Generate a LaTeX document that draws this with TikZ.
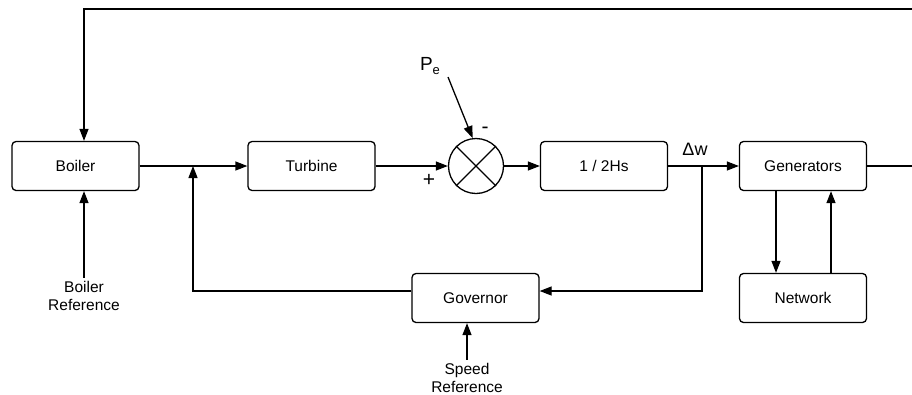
\documentclass[tikz,border=0pt]{standalone}
\usepackage{fontspec}
\setmainfont{Liberation Sans}
\usetikzlibrary{arrows.meta}
\begin{document}
\begin{tikzpicture}[x=1pt,y=-1pt,
  blk/.style={draw, line width=1.3pt, rounded corners=4pt, minimum width=127pt, minimum height=49pt, font=\fontsize{15.5}{17}\selectfont, inner sep=0pt},
  lbl/.style={font=\fontsize{15.5}{18}\selectfont, align=center},
  wire/.style={line width=1.3pt},
  arr/.style={wire, -{Triangle[length=12pt,width=9pt]}}]
\useasboundingbox (0,0) rectangle (912,394);
\clip (0,0) rectangle (912,394);
\node[blk] (boiler) at (75.5,166) {Boiler};
\node[blk] (turbine) at (311.5,166) {Turbine};
\node[draw, circle, line width=1.3pt, minimum size=55pt, inner sep=0pt] (sum) at (476,166) {};
\draw[wire] (sum.45) -- (sum.225) (sum.135) -- (sum.315);
\node[blk] (hs) at (604,166) {1 / 2Hs};
\node[blk] (gen) at (803,166) {Generators};
\node[blk] (net) at (803,298) {Network};
\node[blk] (gov) at (475.5,298) {Governor};
\node[lbl] (bref) at (84,296) {Boiler\\Reference};
\node[lbl] (sref) at (467,378) {Speed\\Reference};
\node[font=\fontsize{19}{20}\selectfont] (pe) at (430,66) {P\raisebox{-4pt}{\fontsize{13}{13}\selectfont e}};
\node[font=\fontsize{21}{22}\selectfont] (plus) at (429,180) {+};
\node[font=\fontsize{21}{22}\selectfont] (minus) at (485,130) {-};
\node[font=\fontsize{18}{20}\selectfont] (dw) at (695,149) {Δw};
\coordinate (j1) at (193,166);
\coordinate (tap) at (702,166);
\coordinate (R) at (930,166);
\coordinate (Rt) at (930,9);
\coordinate (pest) at (448,77);
\draw[arr] (boiler.east) -- (turbine.west);
\draw[arr] (turbine.east) -- (sum.west);
\draw[arr] (sum.east) -- (hs.west);
\draw[arr] (hs.east) -- (gen.west);
\draw[arr] (pest) -- (sum.97);
\draw[arr] (tap) |- ([yshift=7pt]gov.east);
\draw[arr] ([yshift=7pt]gov.west) -| (j1);
\draw[arr] (gen.east) -- (R) -- (Rt) -| ([xshift=8.5pt]boiler.north);
\draw[arr] (bref.north) -- ([xshift=8.5pt]boiler.south);
\draw[arr] (sref.north) -- ([xshift=-8.5pt]gov.south);
\draw[arr] ([xshift=-27pt]gen.south) -- ([xshift=-27pt]net.north);
\draw[arr] ([xshift=28pt]net.north) -- ([xshift=28pt]gen.south);
\end{tikzpicture}
\end{document}
